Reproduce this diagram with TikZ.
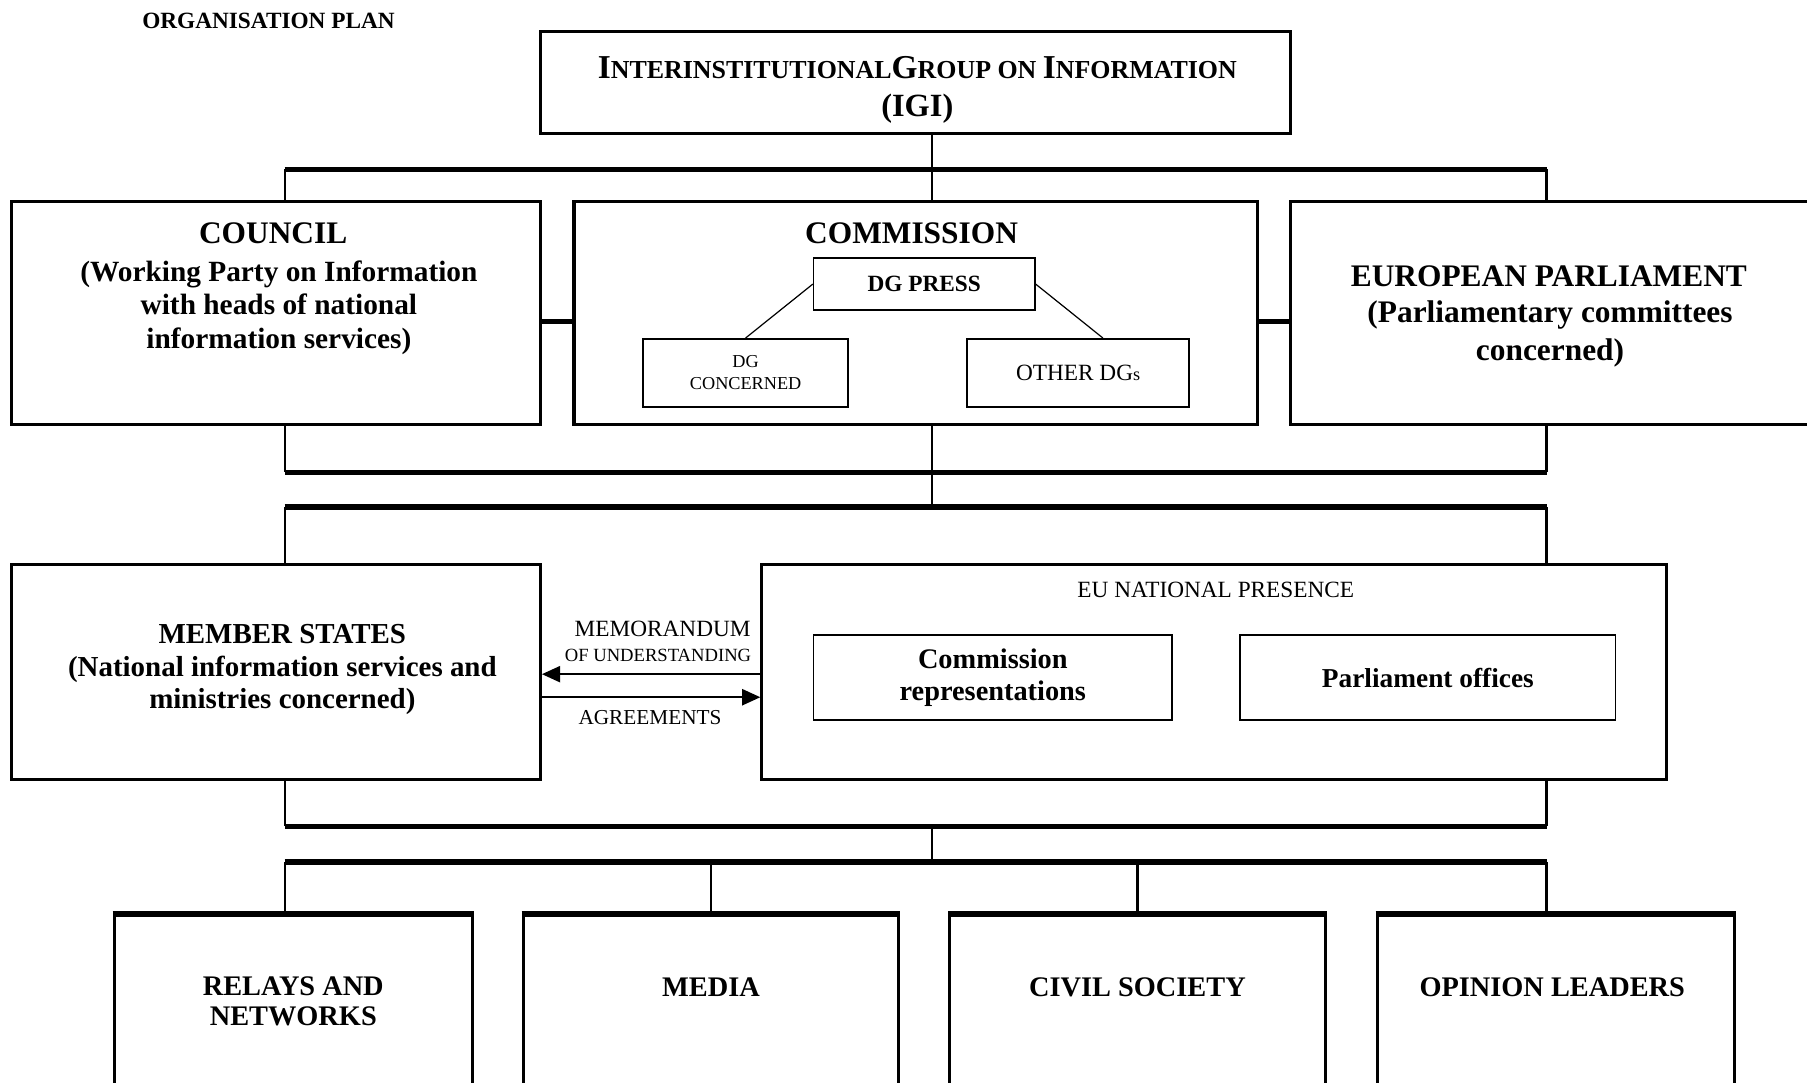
\documentclass[tikz,border=0pt]{standalone}
\usepackage{fontspec}
\setmainfont{Liberation Serif}
\usepackage{tikz}
\usetikzlibrary{calc,arrows.meta}
\newcommand{\igiL}[1]{{\fontsize{16.5}{18.7}\selectfont #1}}
\newcommand{\igiS}[1]{{\fontsize{12.8}{18.7}\selectfont #1}}
\newcommand{\hdfont}{\fontsize{15.5}{19}\selectfont\bfseries}

\begin{document}
\begin{tikzpicture}[x=0.02cm, y=-0.02cm,
  box/.style={draw, line width=1.5pt, inner sep=0pt},
  subbox/.style={draw, line width=0.8pt, inner sep=0pt},
  bus/.style={line width=2.6pt},
  conn/.style={line width=1.1pt},
  arr/.style={line width=0.9pt, -{Triangle[length=9pt,width=8pt]}},
  txt/.style={align=center, inner sep=0pt}]
\useasboundingbox (0,0) rectangle (1568,939);
\clip (0,0) rectangle (1568,939);
% bus lines
\coordinate (lft) at (247,0);
\coordinate (spine) at (809,0);
\coordinate (rgt) at (1342,0);
\coordinate (mtap) at (617,0);
\coordinate (ctap) at (987,0);
\coordinate (row1) at (0,147);
\coordinate (row2) at (0,410);
\coordinate (row3) at (0,440);
\coordinate (row4) at (0,717);
\coordinate (row5) at (0,748);
\coordinate (mid) at (0,279);
\coordinate (arrA) at (0,585);
\coordinate (arrB) at (0,605);

\node[txt, font=\fontsize{11.5}{14}\selectfont\bfseries] (plan) at (233,18) {ORGANISATION PLAN};

% top level
\node[box, minimum width=13.02cm, minimum height=1.78cm] (igi) at (794.5,71.5) {};
\node[txt, font=\fontsize{16}{18.7}\selectfont\bfseries] (igitxt) at (796,78)
  {\igiL{I}\igiS{NTERINSTITUTIONAL}\igiL{G}\igiS{ROUP ON }\igiL{I}\igiS{NFORMATION}\\(IGI)};

% institutions
\node[box, minimum width=9.18cm, minimum height=3.86cm] (council) at (239.5,271.5) {};
\node[txt, font=\hdfont] (counciltxt) at (237,202) {COUNCIL};
\node[txt, font=\fontsize{14.5}{16.5}\selectfont\bfseries] (councilsub) at (242,267)
  {(Working Party on Information\\with heads of national\\information services)};

\node[box, minimum width=11.86cm, minimum height=3.86cm] (comm) at (794.5,271.5) {};
\node[txt, font=\hdfont] (commtxt) at (791,202) {COMMISSION};
\node[subbox, minimum width=3.84cm, minimum height=0.9cm, font=\fontsize{11.5}{13}\selectfont\bfseries] (press) at (802,246.5) {DG PRESS};
\node[subbox, minimum width=3.56cm, minimum height=1.18cm, align=center, font=\fontsize{9}{10.8}\selectfont] (dgc) at (647,323.5) {DG\\CONCERNED};
\node[subbox, minimum width=3.86cm, minimum height=1.18cm, font=\fontsize{11.5}{13}\selectfont] (otherdg) at (935.5,323.5) {OTHER DG{\fontsize{9}{10}\selectfont s}};
\draw[line width=0.6pt] (press.west) -- (dgc.north);
\draw[line width=0.6pt] (press.east) -- ([xshift=0.43cm]otherdg.north);

\node[box, minimum width=9.0cm, minimum height=3.86cm] (ep) at (1345,271.5) {};
\node[txt, font=\hdfont] (eptxt) at (1344,240) {EUROPEAN PARLIAMENT};
\node[txt, font=\hdfont] (epsub) at (1345,290) {(Parliamentary committees\\concerned)};

\draw[bus] (council.east |- mid) -- (comm.west |- mid);
\draw[bus] (comm.east |- mid) -- (ep.west |- mid);

\draw[conn] (igi.south -| spine) -- (comm.north -| spine);
\draw[bus] (lft |- row1) -- (rgt |- row1);
\draw[conn] (lft |- row1) -- (council.north -| lft);
\draw[conn] (rgt |- row1) -- (ep.north -| rgt);

\draw[conn] (council.south -| lft) -- (lft |- row2);
\draw[conn] (comm.south -| spine) -- (spine |- row2);
\draw[conn] (ep.south -| rgt) -- (rgt |- row2);
\draw[bus] (lft |- row2) -- (rgt |- row2);
\draw[conn] (spine |- row2) -- (spine |- row3);
\draw[bus] (lft |- row3) -- (rgt |- row3);

% national level
\node[box, minimum width=9.18cm, minimum height=3.72cm] (member) at (239.5,583) {};
\node[txt, font=\fontsize{14.3}{16.2}\selectfont\bfseries] (membertxt) at (245,581)
  {MEMBER STATES\\(National information services and\\ministries concerned)};

\node[box, minimum width=15.7cm, minimum height=3.72cm] (eu) at (1053.5,583) {};
\node[txt, font=\fontsize{11.5}{13}\selectfont] (eutxt) at (1055,512) {EU NATIONAL PRESENCE};
\node[subbox, minimum width=6.22cm, minimum height=1.48cm, align=center, font=\fontsize{14}{16}\selectfont\bfseries] (rep) at (861.5,588) {Commission\\representations};
\node[subbox, minimum width=6.52cm, minimum height=1.48cm, font=\fontsize{13.5}{16}\selectfont\bfseries] (poff) at (1239,588) {Parliament offices};

\draw[conn] (lft |- row3) -- (member.north -| lft);
\draw[conn] (rgt |- row3) -- (eu.north -| rgt);

\draw[arr] (eu.west |- arrA) -- (member.east |- arrA);
\draw[arr] (member.east |- arrB) -- (eu.west |- arrB);
\node[txt, font=\fontsize{11.5}{13}\selectfont] (memo) at (575,546) {MEMORANDUM};
\node[txt, font=\fontsize{9.2}{11}\selectfont] (memob) at (571,569) {OF UNDERSTANDING};
\node[txt, font=\fontsize{10.5}{12}\selectfont] (agree) at (564,623) {AGREEMENTS};

\draw[conn] (member.south -| lft) -- (lft |- row4);
\draw[conn] (eu.south -| rgt) -- (rgt |- row4);
\draw[bus] (lft |- row4) -- (rgt |- row4);
\draw[conn] (spine |- row4) -- (spine |- row5);
\draw[bus] (lft |- row5) -- (rgt |- row5);

% target groups
\foreach \n/\x/\w/\t/\ty/\lbl in {
  relays/254.5/6.22/lft/869/{RELAYS AND\\NETWORKS},
  media/617/6.52/mtap/857/MEDIA,
  civil/987/6.52/ctap/857/CIVIL SOCIETY,
  opinion/1350/6.2/rgt/857/OPINION LEADERS
}{
  \node[box, minimum width=\w cm, minimum height=3.12cm] (\n) at (\x,872) {};
  \draw[line width=2.6pt] (\n.north west) -- (\n.north east);
  \node[txt, font=\fontsize{14}{14.7}\selectfont\bfseries] (\n txt) at (\x,\ty) {\lbl};
  \draw[conn] (\t |- row5) -- (\n.north -| \t);
}
\end{tikzpicture}
\end{document}
